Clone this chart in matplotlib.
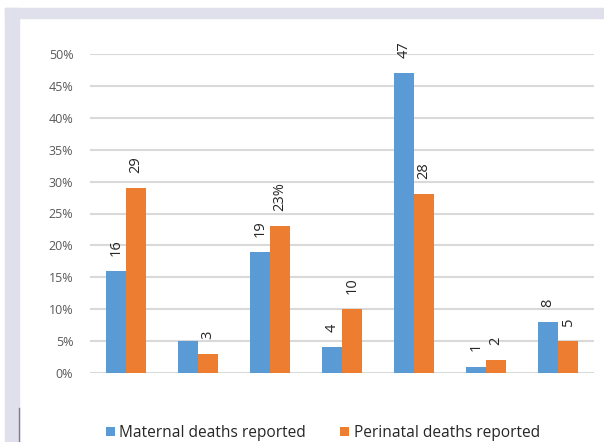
import matplotlib.pyplot as plt
from matplotlib.patches import Rectangle
import numpy as np

plt.rcParams['font.family'] = ['Open Sans', 'DejaVu Sans']

groups = np.arange(7)
maternal = [16, 5, 19, 4, 47, 1, 8]
perinatal = [29, 3, 23, 10, 28, 2, 5]
maternal_labels = ["16", "", "19", "4", "47", "1", "8"]
perinatal_labels = ["29", "3", "23%", "10", "28", "2", "5"]
yticks = [0, 5, 10, 15, 20, 25, 30, 35, 40, 45, 50]

blue = "#5B9BD5"
orange = "#ED7D31"

fig = plt.figure(figsize=(6.04, 4.42), dpi=100)

# lavender frame at top and left
fig.patches.append(Rectangle((5/604, 1-18/442), 1, 10/442, transform=fig.transFigure,
                             color="#E0DFEC", zorder=0))
fig.patches.append(Rectangle((5/604, 0), 14/604, 1-8/442, transform=fig.transFigure,
                             color="#E0DFEC", zorder=0))
fig.add_artist(plt.Line2D([19/604, 19/604], [0, 34/442], transform=fig.transFigure,
                          color="#7F7F7F", lw=1))

ax = fig.add_axes([90/604, 69/442, 504/604, 319/442])
w = 0.28
b1 = ax.bar(groups - w/2, maternal, w, color=blue, label="Maternal deaths reported", zorder=3)
b2 = ax.bar(groups + w/2, perinatal, w, color=orange, label="Perinatal deaths reported", zorder=3)

for bars, labs in [(b1, maternal_labels), (b2, perinatal_labels)]:
    for r, t in zip(bars, labs):
        if t:
            ax.annotate(t, (r.get_x() + r.get_width()/2, r.get_height()),
                        xytext=(0, 11), textcoords="offset points",
                        rotation=90, ha="center", va="bottom",
                        fontsize=10.5, color="#262626")

ax.set_xlim(-0.5, 6.5)
ax.set_ylim(0, 50)
ax.set_yticks(yticks)
ax.set_yticklabels([f"{v}%" for v in yticks], fontsize=9, color="#595959")
ax.set_xticks([])
ax.tick_params(axis="y", length=0, pad=12)
ax.grid(axis="y", color="#D9D9D9", lw=1.5, zorder=0)
for s in ax.spines.values():
    s.set_visible(False)

fig.legend(handles=[b1, b2], loc="center", bbox_to_anchor=(323/604, 1-433/442),
           ncol=2, frameon=False, fontsize=11.2, handlelength=0.55, handleheight=0.55,
           handletextpad=0.3, columnspacing=2.2, labelcolor="#262626")

fig.savefig("out.png", dpi=100)
